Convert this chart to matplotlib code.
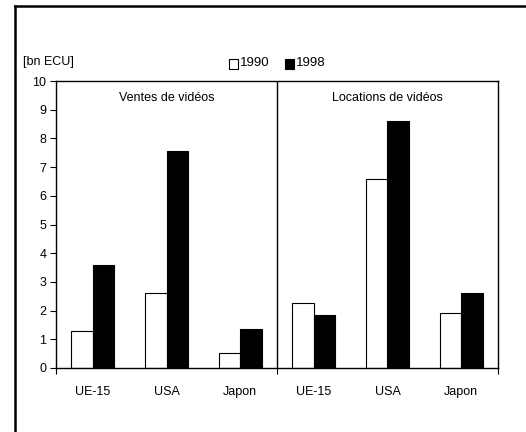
import matplotlib
matplotlib.use("Agg")
import matplotlib.pyplot as plt
from matplotlib.lines import Line2D
from matplotlib.patches import Rectangle
import numpy as np

plt.rcParams['font.family'] = ['Liberation Sans', 'DejaVu Sans']

categories = ["UE-15", "USA", "Japon", "UE-15", "USA", "Japon"]
panels = ["Ventes de vidéos", "Locations de vidéos"]
values_1990 = [1.3, 2.6, 0.53, 2.25, 6.6, 1.9]
values_1998 = [3.6, 7.55, 1.35, 1.85, 8.6, 2.62]
series = ["1990", "1998"]
y_label = "[bn ECU]"

W, H = 526, 432
FS = 9
fig = plt.figure(figsize=(W / 100, H / 100), dpi=100)
ax = fig.add_axes([56 / W, 1 - 368 / H, (498 - 56) / W, (368 - 81) / H])

x = np.arange(len(categories)) + 0.5
bw = 0.29
ax.bar(x - bw / 2, values_1990, bw, color="white", edgecolor="black", linewidth=0.8, label=series[0])
ax.bar(x + bw / 2, values_1998, bw, color="black", edgecolor="black", linewidth=0.8, label=series[1])

ax.set_xlim(0, 6)
ax.set_ylim(0, 10)
ax.axvline(3, color="black", linewidth=1)
ax.set_yticks(range(0, 11))
ax.set_xticks([0, 3, 6])
ax.set_xticklabels([])
ax.set_xticks(x, minor=True)
ax.set_xticklabels(categories, minor=True)
ax.tick_params(axis="x", which="minor", length=0, pad=13, labelsize=FS)
ax.tick_params(axis="x", which="major", length=4, direction="out")
ax.tick_params(axis="y", length=4, direction="out", labelsize=FS, pad=3)
for s in ax.spines.values():
    s.set_linewidth(1)

ax.text(1.5, 9.4, panels[0], ha="center", va="center", fontsize=FS)
ax.text(4.5, 9.4, panels[1], ha="center", va="center", fontsize=FS)

fig.text(23 / W, 1 - 62 / H, y_label, ha="left", va="center", fontsize=FS)

# legend
leg_y = 1 - 63 / H
sq = 9
fig.patches.append(Rectangle((229 / W, leg_y - (sq / 2 + 1) / H), sq / W, sq / H,
                             facecolor="white", edgecolor="black", linewidth=0.8,
                             transform=fig.transFigure, figure=fig))
fig.text(240 / W, leg_y, series[0], ha="left", va="center", fontsize=9.5)
fig.patches.append(Rectangle((285 / W, leg_y - (sq / 2 + 1) / H), sq / W, sq / H,
                             facecolor="black", edgecolor="black", linewidth=0.8,
                             transform=fig.transFigure, figure=fig))
fig.text(296 / W, leg_y, series[1], ha="left", va="center", fontsize=9.5)

# outer frame (left and top edges)
fig.lines.append(Line2D([15 / W, 15 / W], [0, 1 - 6 / H], transform=fig.transFigure,
                        color="black", linewidth=1.8, figure=fig))
fig.lines.append(Line2D([15 / W, 1], [1 - 6 / H, 1 - 6 / H], transform=fig.transFigure,
                        color="black", linewidth=1.8, figure=fig))

fig.savefig("out.png", dpi=100)
